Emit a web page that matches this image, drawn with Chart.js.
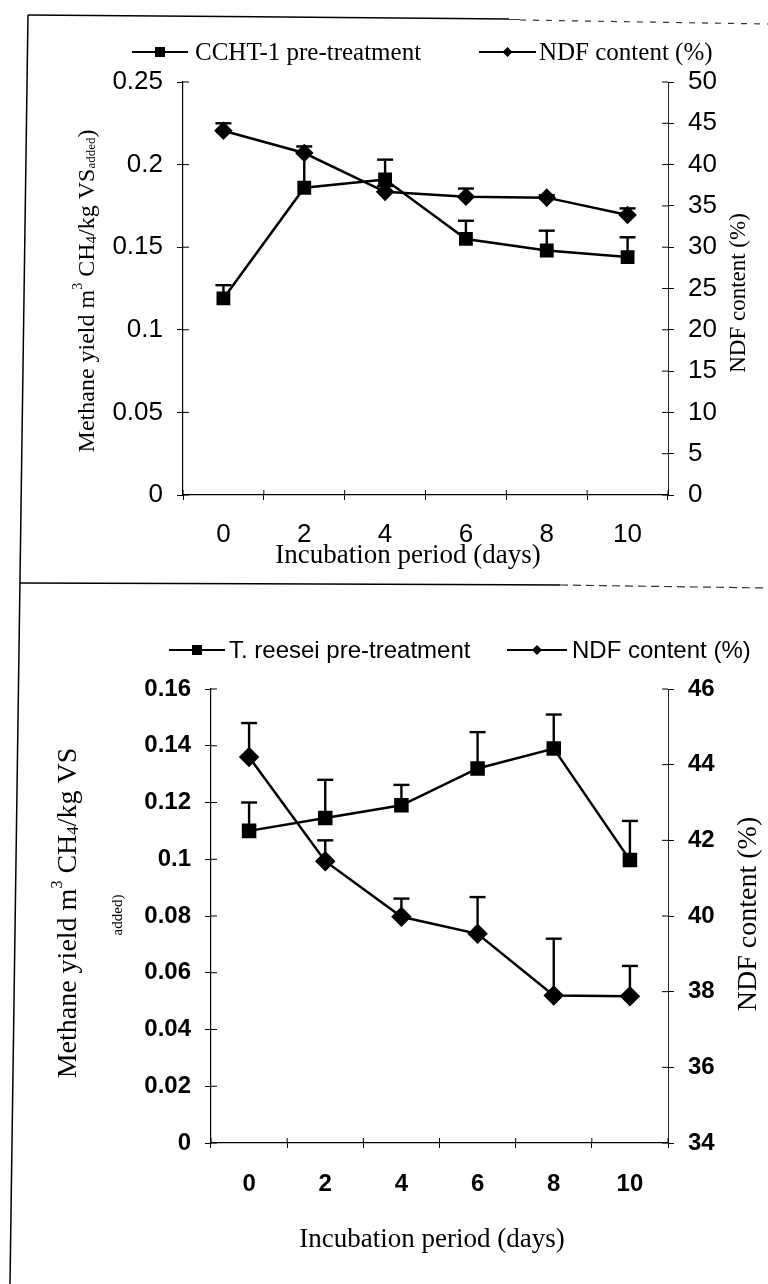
<!DOCTYPE html>
<html>
<head>
<meta charset="utf-8">
<script src="https://cdn.jsdelivr.net/npm/chart.js@4/dist/chart.umd.min.js"></script>
<style>
  html, body { margin: 0; padding: 0; background: #fff; }
  #page { position: relative; width: 768px; height: 1284px; overflow: hidden; background: #fff; }
  #frame { position: absolute; left: 0; top: 0; }
  .box { position: absolute; left: 0; width: 768px; }
</style>
</head>
<body>
<div id="page">
  <svg id="frame" width="768" height="1284">
    <line x1="28" y1="15" x2="520" y2="19" stroke="#000" stroke-width="1.5"/>
    <line x1="520" y1="20" x2="768" y2="24" stroke="#333" stroke-width="1.2" stroke-dasharray="6 7"/>
    <line x1="28" y1="15" x2="10" y2="1284" stroke="#000" stroke-width="1.5"/>
    <line x1="20" y1="583" x2="560" y2="585" stroke="#000" stroke-width="1.5"/>
    <line x1="560" y1="585" x2="768" y2="588" stroke="#333" stroke-width="1.2" stroke-dasharray="8 5"/>
  </svg>
  <div class="box" style="top:0;height:583px"><canvas id="topChart"></canvas></div>
  <div class="box" style="top:583px;height:701px"><canvas id="bottomChart"></canvas></div>
</div>
<script>
// 横軸（日数）
const days = ['0', '2', '4', '6', '8', '10'];

// 上のグラフ：CCHT-1
const cchtYield = [0.119, 0.186, 0.191, 0.155, 0.148, 0.144];
const cchtErr = [0.008, 0.021, 0.012, 0.011, 0.012, 0.012];
const ndfTop = [44.1, 41.4, 36.7, 36.1, 36.0, 33.9];
const ndfTopErr = [0.9, 0.8, 0.7, 1.0, 0.3, 0.8];

// 下のグラフ：T. reesei
const reeseiYield = [0.110, 0.1145, 0.119, 0.132, 0.139, 0.0997];
const reeseiErr = [0.010, 0.0135, 0.0072, 0.0128, 0.012, 0.0138];
const ndfBottom = [44.2, 41.45, 39.98, 39.53, 37.9, 37.88];
const ndfBottomErr = [0.9, 0.55, 0.48, 0.97, 1.5, 0.8];

// 目盛りラベル
const topYieldTicks = ['0', '0.05', '0.1', '0.15', '0.2', '0.25'];
const topNdfTicks = ['0', '5', '10', '15', '20', '25', '30', '35', '40', '45', '50'];
const bottomYieldTicks = ['0', '0.02', '0.04', '0.06', '0.08', '0.1', '0.12', '0.14', '0.16'];
const bottomNdfTicks = ['34', '36', '38', '40', '42', '44', '46'];

const SERIF = "'Liberation Serif', 'Times New Roman', serif";
const SANS = "'Liberation Sans', Arial, sans-serif";

function tickLabel(list) {
  return v => list.find(t => Math.abs(Number(t) - v) < 1e-9) || '';
}

function line(ctx, x1, y1, x2, y2) {
  ctx.beginPath();
  ctx.moveTo(x1, y1);
  ctx.lineTo(x2, y2);
  ctx.stroke();
}

// 上付き・下付きを含むテキスト
function drawRich(ctx, segs, cx, cy, rot) {
  ctx.save();
  ctx.translate(cx, cy);
  if (rot) ctx.rotate(rot);
  ctx.textBaseline = 'alphabetic';
  let w = 0;
  segs.forEach(s => { ctx.font = s.font; w += ctx.measureText(s.t).width; });
  let x = -w / 2;
  segs.forEach(s => {
    ctx.font = s.font;
    ctx.fillText(s.t, x, (s.base || 0) + (s.dy || 0));
    x += ctx.measureText(s.t).width;
  });
  ctx.restore();
}

// 凡例・軸タイトル・誤差棒・内側目盛り
function makeDecor(cfg) {
  return {
    id: 'decor',
    afterDatasetsDraw(chart) {
      const ctx = chart.ctx;
      ctx.save();
      ctx.strokeStyle = '#000';
      ctx.lineWidth = 2.4;
      chart.data.datasets.forEach((ds, di) => {
        const meta = chart.getDatasetMeta(di);
        const sc = chart.scales[ds.yAxisID];
        ds.errorBars.forEach((e, i) => {
          const p = meta.data[i];
          const top = sc.getPixelForValue(ds.data[i] + e);
          line(ctx, p.x, p.y, p.x, top);
          line(ctx, p.x - 8, top, p.x + 8, top);
        });
      });
      ctx.restore();
    },
    afterDraw(chart) {
      const ctx = chart.ctx;
      const a = chart.chartArea;
      ctx.save();
      ctx.strokeStyle = '#000';
      ctx.fillStyle = '#000';
      ctx.lineWidth = 1;
      // 内側の目盛り
      ['y', 'y1'].forEach(id => {
        const s = chart.scales[id];
        s.ticks.forEach((t, i) => {
          const py = s.getPixelForTick(i);
          if (id === 'y') line(ctx, a.left, py, a.left + 6, py);
          else line(ctx, a.right - 6, py, a.right, py);
        });
      });
      const xs = chart.scales.x;
      const n = chart.data.labels.length;
      for (let i = 0; i <= n; i++) {
        const px = xs.left + i * (xs.width / n);
        line(ctx, px, a.bottom - 5, px, a.bottom);
      }
      // 凡例
      cfg.legend.forEach((it, di) => {
        const ds = chart.data.datasets[di];
        ctx.lineWidth = 2.2;
        line(ctx, it.x, it.y, it.x + it.len, it.y);
        const cx = it.x + it.len / 2;
        ctx.beginPath();
        if (ds.pointStyle === 'rect') {
          ctx.rect(cx - it.size / 2, it.y - it.size / 2, it.size, it.size);
        } else {
          ctx.moveTo(cx, it.y - it.size / 2);
          ctx.lineTo(cx + it.size / 2, it.y);
          ctx.lineTo(cx, it.y + it.size / 2);
          ctx.lineTo(cx - it.size / 2, it.y);
          ctx.closePath();
        }
        ctx.fill();
        ctx.font = cfg.legendFont;
        ctx.textBaseline = 'middle';
        ctx.fillText(ds.label, it.x + it.len + it.gap, it.y + 1);
      });
      // 軸タイトル
      cfg.titles.forEach(t => drawRich(ctx, t.segs, t.x, t.y, t.rot));
      ctx.restore();
    }
  };
}

function makeChart(id, cfg) {
  const yMin = Number(cfg.yTicks[0]);
  const yMax = Number(cfg.yTicks[cfg.yTicks.length - 1]);
  const rMin = Number(cfg.rTicks[0]);
  const rMax = Number(cfg.rTicks[cfg.rTicks.length - 1]);
  const tickFont = { family: SANS, size: cfg.tickSize, weight: cfg.tickWeight };
  return new Chart(document.getElementById(id), {
    type: 'line',
    data: {
      labels: days,
      datasets: [
        {
          label: cfg.yieldLabel,
          data: cfg.yieldData,
          errorBars: cfg.yieldErr,
          yAxisID: 'y',
          borderColor: '#000',
          backgroundColor: '#000',
          borderWidth: 2.5,
          pointStyle: 'rect',
          pointRadius: cfg.rectRadius,
          pointBackgroundColor: '#000',
          pointBorderColor: '#000',
          tension: 0
        },
        {
          label: 'NDF content (%)',
          data: cfg.ndfData,
          errorBars: cfg.ndfErr,
          yAxisID: 'y1',
          borderColor: '#000',
          backgroundColor: '#000',
          borderWidth: 2.5,
          pointStyle: 'rectRot',
          pointRadius: cfg.diaRadius,
          pointBackgroundColor: '#000',
          pointBorderColor: '#000',
          tension: 0
        }
      ]
    },
    options: {
      responsive: true,
      maintainAspectRatio: false,
      animation: false,
      layout: { padding: { top: cfg.padTop, left: 0, right: 0, bottom: 0 } },
      plugins: { legend: { display: false }, tooltip: { enabled: false } },
      scales: {
        x: {
          type: 'category',
          offset: true,
          afterFit: s => { s.height = cfg.xHeight; },
          grid: { display: true, offset: true, drawOnChartArea: false, tickLength: 5, color: '#000' },
          border: { color: '#000', width: 1.2 },
          ticks: { color: '#000', padding: cfg.xPad, font: tickFont }
        },
        y: {
          position: 'left',
          min: yMin,
          max: yMax,
          afterFit: s => { s.width = cfg.leftWidth; },
          grid: { display: true, drawOnChartArea: false, tickLength: 6, color: '#000' },
          border: { color: '#000', width: 1.2 },
          ticks: {
            stepSize: Number(cfg.yTicks[1]) - yMin,
            color: '#000',
            padding: 14,
            font: tickFont,
            callback: tickLabel(cfg.yTicks)
          }
        },
        y1: {
          position: 'right',
          min: rMin,
          max: rMax,
          afterFit: s => { s.width = cfg.rightWidth; },
          grid: { display: true, drawOnChartArea: false, tickLength: 6, color: '#000' },
          border: { color: '#222', width: 1, dash: [10, 3, 2, 3] },
          ticks: {
            stepSize: Number(cfg.rTicks[1]) - rMin,
            color: '#000',
            padding: 14,
            font: tickFont,
            callback: tickLabel(cfg.rTicks)
          }
        }
      }
    },
    plugins: [makeDecor(cfg.decor)]
  });
}

function f(size, fam) { return size + 'px ' + (fam || SERIF); }

makeChart('topChart', {
  yieldLabel: 'CCHT-1 pre-treatment',
  yieldData: cchtYield,
  yieldErr: cchtErr,
  ndfData: ndfTop,
  ndfErr: ndfTopErr,
  yTicks: topYieldTicks,
  rTicks: topNdfTicks,
  rectRadius: 8,
  diaRadius: 7.5,
  padTop: 82,
  xHeight: 88,
  xPad: 19,
  leftWidth: 183,
  rightWidth: 100,
  tickSize: 26,
  tickWeight: 'normal',
  decor: {
    legendFont: f(25),
    legend: [
      { x: 132, y: 52, len: 56, gap: 7, size: 10 },
      { x: 479, y: 52, len: 57, gap: 3, size: 10 }
    ],
    titles: [
      {
        x: 86, y: 291, rot: -Math.PI / 2,
        segs: [
          { t: 'Methane yield m', font: f(24), base: 8 },
          { t: '3', font: f(14), base: 8, dy: -12 },
          { t: ' CH', font: f(24), base: 8 },
          { t: '4', font: f(15), base: 8, dy: 2 },
          { t: '/kg VS', font: f(24), base: 8 },
          { t: 'added', font: f(13), base: 8, dy: 1 },
          { t: ')', font: f(24), base: 8 }
        ]
      },
      { x: 737, y: 293, rot: -Math.PI / 2, segs: [{ t: 'NDF content (%)', font: f(23), base: 8 }] },
      { x: 408, y: 554, rot: 0, segs: [{ t: 'Incubation period (days)', font: f(27), base: 9 }] }
    ]
  }
});

makeChart('bottomChart', {
  yieldLabel: 'T. reesei pre-treatment',
  yieldData: reeseiYield,
  yieldErr: reeseiErr,
  ndfData: ndfBottom,
  ndfErr: ndfBottomErr,
  yTicks: bottomYieldTicks,
  rTicks: bottomNdfTicks,
  rectRadius: 8.5,
  diaRadius: 8.5,
  padTop: 106,
  xHeight: 141,
  xPad: 22,
  leftWidth: 211,
  rightWidth: 100,
  tickSize: 24,
  tickWeight: 'bold',
  decor: {
    legendFont: f(24, SANS),
    legend: [
      { x: 169, y: 67, len: 56, gap: 4, size: 10 },
      { x: 507, y: 67, len: 60, gap: 5, size: 10 }
    ],
    titles: [
      {
        x: 66, y: 330, rot: -Math.PI / 2,
        segs: [
          { t: 'Methane yield m', font: f(28), base: 10 },
          { t: '3', font: f(16), base: 10, dy: -14 },
          { t: ' CH', font: f(28), base: 10 },
          { t: '4', font: f(17), base: 10, dy: 2 },
          { t: '/kg VS', font: f(28), base: 10 }
        ]
      },
      { x: 117, y: 332, rot: -Math.PI / 2, segs: [{ t: 'added)', font: f(15), base: 5 }] },
      { x: 746, y: 331, rot: -Math.PI / 2, segs: [{ t: 'NDF content (%)', font: f(28), base: 10 }] },
      { x: 432, y: 655, rot: 0, segs: [{ t: 'Incubation period (days)', font: f(27), base: 9 }] }
    ]
  }
});
</script>
</body>
</html>
